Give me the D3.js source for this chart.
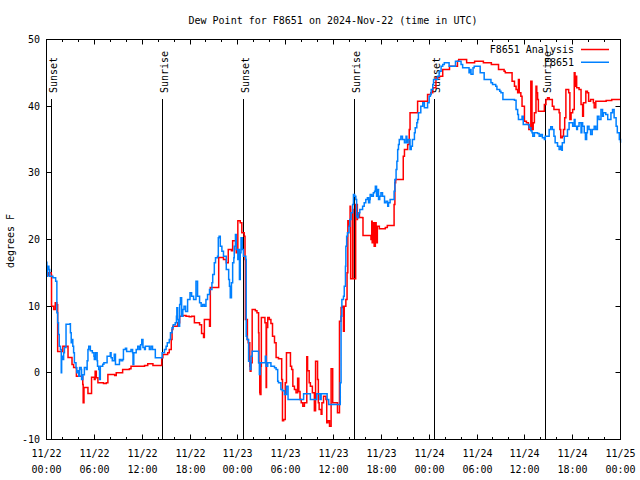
<!DOCTYPE html>
<html>
<head>
<meta charset="utf-8">
<script src="https://cdn.jsdelivr.net/npm/d3@7"></script>
<style>
html,body{margin:0;padding:0;background:#fff;}
svg text{font-family:"DejaVu Sans Mono","Liberation Mono",monospace;font-size:10px;fill:#000;}
</style>
</head>
<body>
<svg id="chart" width="640" height="480"></svg>
<script>
// ---- data (hours since 2024-11-22 00:00 UTC) ----
const titleText = "Dew Point for F8651 on 2024-Nov-22 (time in UTC)";
const yLabelText = "degrees F";
const seriesNames = ["F8651 Analysis", "F8651"];
const yTicks = [-10, 0, 10, 20, 30, 40, 50];
const sunEventNames = ["Sunset", "Sunrise", "Sunset", "Sunrise", "Sunset", "Sunrise"];
const sunEventHours = [0.6, 14.47, 24.62, 38.55, 48.6, 62.55];

const analysisHours = [0.0,0.25,0.6,0.63,0.9,1.1,1.3,1.4,1.75,2.05,2.6,2.7,3.15,3.2,3.4,3.6,3.75,4.25,4.55,4.6,4.7,5.0,5.2,5.6,5.65,6.0,6.1,6.25,6.45,7.15,7.5,7.7,8.55,8.75,9.35,9.55,10.4,10.6,12.3,12.7,13.1,13.35,14.4,14.45,14.6,15.2,15.4,15.65,15.75,15.85,16.45,16.7,17.1,17.5,17.9,18.2,18.55,19.2,19.45,19.7,19.8,20.2,20.45,20.55,21.55,21.6,22.2,22.55,22.8,23.2,23.35,23.7,23.8,24.0,24.3,24.5,24.8,24.9,24.95,25.2,25.3,25.5,25.55,25.65,25.8,26.2,26.4,26.6,26.65,26.75,26.8,26.9,26.95,27.3,27.4,27.55,27.6,27.75,27.95,28.15,28.35,28.6,28.8,29.0,29.1,29.4,29.5,29.6,29.75,29.95,30.1,30.55,30.6,30.75,30.9,31.1,31.3,31.5,31.65,31.8,31.95,32.15,32.35,32.65,32.75,32.95,33.1,33.35,33.6,33.75,33.95,34.0,34.1,34.2,34.45,34.55,34.75,35.05,35.15,35.3,35.5,35.7,35.9,36.3,36.5,36.75,36.95,37.15,37.25,37.35,37.55,37.7,37.8,37.9,38.08,38.15,38.37,38.4,38.45,38.74,38.78,38.99,39.0,39.25,39.65,39.7,40.6,40.7,40.8,40.85,41.0,41.1,41.25,41.35,41.5,41.75,42.25,42.5,42.75,43.55,43.6,43.7,43.8,44.7,44.75,44.9,45.3,45.5,45.6,46.35,46.55,47.4,47.8,48.2,48.45,48.85,49.3,49.7,50.3,50.55,51.4,51.55,51.7,52.6,52.7,53.65,53.7,54.7,54.8,55.75,55.8,56.6,56.7,57.4,57.55,58.25,58.4,58.7,58.9,59.1,59.2,59.3,59.5,59.65,59.8,59.95,60.2,60.45,60.5,60.75,60.9,61.05,61.2,61.4,61.5,61.6,61.7,62.2,62.45,62.65,62.85,63.05,63.4,63.45,63.65,63.9,64.05,64.3,64.4,64.5,64.7,64.85,65.0,65.15,65.3,65.5,65.65,65.8,66.0,66.2,66.3,66.35,66.5,66.8,67.05,67.25,67.35,67.65,67.85,68.0,68.25,68.6,68.7,68.9,69.75,70.2,70.8,70.9,72.0];
const analysisValues = [14.6,15.0,14.7,10.0,9.5,10.5,10.2,3.2,3.2,4.0,4.0,2.3,2.3,1.25,0.8,0.8,-0.5,-0.5,-1.75,-4.5,-2.2,-2.2,-3.1,-3.1,-0.65,-1.0,0.25,-0.75,-1.5,-1.6,-1.5,-0.25,-0.4,0.0,0.0,0.5,0.6,1.0,1.1,1.35,1.35,1.1,1.1,2.25,2.75,3.0,3.5,5.0,6.5,7.0,7.5,8.5,8.6,8.5,8.4,8.5,7.5,7.2,5.9,5.3,8.0,8.0,7.0,12.8,12.8,17.3,17.0,16.5,18.5,18.3,19.8,19.8,18.0,22.8,22.5,21.0,20.5,17.0,8.0,5.0,4.5,1.0,0.25,1.5,9.5,9.3,9.0,6.0,1.5,-3.0,-3.25,1.0,8.3,8.3,7.5,-2.2,6.8,8.3,8.0,7.4,5.5,4.5,2.3,2.3,2.1,2.1,-1.0,-7.2,-7.0,-1.5,3.0,3.0,1.0,0.5,-2.0,-2.5,-3.0,-0.8,-2.8,-4.0,-4.5,-5.0,-4.5,2.4,0.3,-1.5,-2.0,-3.0,-5.7,1.75,1.75,-1.0,-4.5,-5.5,-6.2,-4.5,-3.5,-4.0,-7.5,-7.2,-8.0,0.6,-4.5,-4.5,-6.0,7.75,9.8,10.0,6.25,10.0,11.0,15.0,22.8,22.0,25.0,14.1,14.1,24.5,14.1,14.1,25.25,23.0,24.0,23.3,23.25,20.6,20.6,20.0,22.75,19.5,22.5,19.0,22.5,19.5,22.0,21.6,21.6,21.8,22.1,22.1,25.25,28.5,29.0,29.0,32.5,33.5,34.25,36.5,39.0,39.0,40.75,40.75,41.75,42.0,42.75,44.25,44.5,45.5,45.5,46.0,46.0,46.75,47.0,47.0,46.5,46.5,46.75,46.75,46.5,46.5,46.25,46.25,45.5,45.25,45.0,45.0,43.75,43.0,42.5,42.0,44.0,42.0,41.5,40.0,40.0,37.75,37.5,37.2,36.5,43.75,36.5,37.5,39.0,43.0,42.0,41.0,39.25,39.25,40.25,41.0,41.25,41.0,41.0,40.0,39.5,39.5,39.5,39.0,36.5,35.25,35.5,36.5,38.25,42.5,42.5,42.0,38.0,39.0,39.5,45.0,43.0,44.5,42.75,42.5,40.25,38.5,40.5,42.25,42.0,40.75,41.0,40.5,39.75,40.75,40.75,40.85,40.85,41.0,41.0];

const stationHours = [0.0,0.05,0.15,0.3,0.4,0.6,0.8,1.0,1.15,1.25,1.3,1.4,1.5,1.6,1.75,1.85,1.9,2.05,2.15,2.25,2.45,2.95,3.0,3.1,3.15,3.3,3.4,3.5,3.7,3.8,3.95,4.05,4.15,4.35,4.4,4.55,4.75,5.0,5.1,5.2,5.3,5.5,5.75,5.95,6.0,6.15,6.35,6.4,6.55,6.65,6.75,7.05,7.2,7.5,7.6,7.9,8.0,8.1,8.25,8.45,8.5,8.65,8.85,9.15,9.35,9.55,9.65,9.9,10.05,10.5,10.6,10.8,10.85,10.95,11.25,11.45,11.65,11.8,11.95,12.1,12.3,12.4,12.9,13.1,13.3,13.55,13.65,14.35,14.5,14.8,15.0,15.15,15.4,15.55,15.75,15.9,16.15,16.3,16.35,16.45,16.55,16.7,16.8,16.95,17.1,17.25,17.45,17.7,18.0,18.2,18.45,18.75,18.95,19.2,19.4,19.6,19.8,20.0,20.2,20.45,20.75,20.85,21.05,21.2,21.45,21.55,21.65,21.8,22.0,22.2,22.55,22.7,22.85,22.95,23.05,23.2,23.35,23.5,23.55,23.7,23.8,24.0,24.1,24.2,24.3,24.4,24.55,24.7,24.8,25.0,25.05,25.15,25.35,25.55,25.65,25.8,26.45,26.6,26.7,26.8,27.3,27.45,27.55,27.75,27.95,28.15,28.6,28.8,29.0,29.1,29.4,29.6,29.85,30.1,30.25,30.3,32.15,32.25,33.0,33.1,33.8,33.9,34.2,34.3,34.45,35.05,35.2,35.4,36.75,36.85,36.95,37.05,37.25,37.35,37.5,37.55,37.65,37.75,37.95,38.05,38.2,38.4,38.5,38.65,38.8,38.9,39.0,39.15,39.3,39.65,39.85,40.05,40.25,40.4,40.55,40.6,40.8,41.0,41.15,41.25,41.4,41.5,41.65,41.8,41.95,42.15,42.4,42.6,42.8,42.9,43.1,43.4,43.6,43.7,43.85,43.95,44.05,44.15,44.25,44.45,44.65,44.9,45.1,45.2,45.35,45.6,45.75,45.9,46.15,46.25,46.45,46.55,46.65,46.95,47.2,47.4,47.6,47.8,48.0,48.15,48.25,48.45,48.55,48.85,49.05,49.25,49.5,49.7,49.9,50.3,50.5,51.15,51.3,51.8,52.0,52.2,52.6,53.0,53.1,53.25,53.5,53.65,54.3,54.4,54.8,54.9,55.55,55.75,55.95,56.35,56.5,56.85,57.0,57.25,58.7,58.9,59.1,59.2,59.5,59.65,59.8,60.55,60.75,60.9,61.0,61.2,61.6,61.8,62.0,62.2,62.45,62.55,62.85,63.05,63.25,63.45,63.65,63.8,64.1,64.3,64.5,64.65,64.7,64.95,65.15,65.35,65.55,65.75,66.0,66.2,66.3,66.5,66.6,66.8,67.05,67.15,67.25,67.45,67.6,67.75,67.85,68.05,68.25,68.45,68.7,68.9,69.1,69.3,69.55,69.75,69.85,70.15,70.4,70.55,70.8,71.0,71.2,71.45,71.6,71.85,72.0];
const stationValues = [16.6,14.5,16.0,15.5,14.5,14.5,14.25,14.25,13.75,13.75,9.0,7.5,5.75,4.0,3.5,0.0,2.5,2.0,3.0,3.8,7.3,7.35,6.0,4.5,5.0,4.0,3.0,1.5,0.75,0.0,0.3,-0.5,0.8,0.5,-1.0,-0.3,0.8,0.5,1.8,3.5,4.0,3.3,3.0,2.5,2.0,3.0,1.8,1.0,0.5,-1.0,1.0,1.3,1.5,1.5,2.5,2.5,3.0,2.25,1.8,1.8,2.8,1.25,1.25,2.0,1.8,2.0,3.5,3.7,3.2,3.2,3.5,3.0,1.25,3.0,3.5,4.0,3.5,4.2,5.0,3.8,3.5,4.0,3.5,4.0,3.5,3.5,2.25,2.25,3.0,3.5,4.0,4.5,5.0,6.0,6.75,7.2,7.5,8.5,9.75,8.0,7.0,10.25,11.25,8.5,9.5,10.0,9.2,11.0,12.0,11.5,11.0,13.75,11.5,10.5,10.0,10.25,10.0,11.0,11.75,12.5,13.5,14.75,16.5,17.25,17.5,20.25,20.5,19.0,18.25,17.5,15.5,15.5,14.0,13.0,11.25,13.5,16.5,17.25,19.0,20.75,18.5,17.0,18.5,14.0,18.0,20.25,18.5,17.5,17.5,17.0,5.5,5.0,1.75,0.5,2.5,3.25,3.25,1.5,-0.25,1.5,1.5,2.5,1.0,1.5,1.5,1.0,0.75,0.5,-1.25,-1.5,-2.5,-2.7,-3.25,-2.0,-2.0,-4.0,-4.0,-3.15,-3.15,-4.0,-4.0,-3.15,-3.15,-4.0,-3.15,-3.15,-4.0,-4.75,-4.75,-1.5,8.5,11.0,11.5,13.0,16.0,19.0,20.5,21.0,22.0,23.0,24.0,25.25,26.75,26.5,26.0,23.5,23.25,24.0,24.5,25.0,25.5,26.0,26.25,25.5,26.0,26.75,26.5,27.0,27.25,28.0,26.5,27.5,26.0,26.5,27.0,26.5,25.5,25.75,25.0,25.5,26.0,26.0,27.25,29.0,30.5,31.75,33.5,34.25,35.0,35.5,35.0,34.5,35.5,34.5,35.0,33.5,34.0,35.0,36.0,36.75,37.5,38.0,39.0,40.0,40.5,39.75,39.75,40.5,41.5,41.75,42.5,43.25,44.0,44.0,44.5,45.25,46.0,46.25,46.5,46.5,46.0,46.0,46.75,46.75,46.25,45.75,45.75,45.0,45.5,44.8,45.75,46.0,46.0,45.0,45.0,44.0,44.0,43.5,43.25,43.0,42.5,42.25,42.0,41.0,40.9,39.5,38.75,38.0,38.0,38.5,37.25,36.75,36.3,36.0,35.5,36.0,35.9,35.5,35.75,35.25,35.0,35.5,35.5,36.5,36.9,36.5,35.5,34.5,34.0,33.5,34.0,33.4,34.5,35.5,35.5,36.5,37.5,37.5,37.0,38.0,37.0,36.5,37.0,37.5,36.0,37.5,37.0,36.0,35.0,36.0,37.0,36.5,35.75,36.5,37.0,36.5,38.5,38.0,39.5,38.5,39.0,38.75,38.0,38.0,39.0,39.5,38.25,37.0,36.0,35.0,34.5];

// ---- drawing ----
(function () {
const pL = 46.5, pR = 620.5, pT = 39.5, pB = 439.5;
const start = Date.UTC(2024, 10, 22, 0, 0);
const toDate = h => new Date(start + h * 3600e3);

const svg = d3.select("#chart");
const x = d3.scaleUtc().domain([toDate(0), toDate(72)]).range([pL, pR]);
const y = d3.scaleLinear().domain([-10, 50]).range([pB, pT]);

const colors = ["#ff0000", "#0080ff"];

// title
svg.append("text").attr("x", 333).attr("y", 24).attr("text-anchor", "middle").text(titleText);
// y label
svg.append("text").attr("transform", "translate(14,241) rotate(-90)")
  .attr("text-anchor", "middle").text(yLabelText);

// sunrise/sunset lines
const sunG = svg.append("g");
sunEventHours.forEach((h, i) => {
  const xx = Math.round(x(toDate(h))) + 0.5;
  sunG.append("line").attr("x1", xx).attr("x2", xx).attr("y1", 99).attr("y2", pB)
    .attr("stroke", "#000").attr("stroke-width", 1);
  sunG.append("text").attr("transform", `translate(${xx + 1.5},93) rotate(-90)`)
    .attr("dy", "0.35em").attr("text-anchor", "start").text(sunEventNames[i]);
});

// series
const line = d3.line().curve(d3.curveStepAfter)
  .x(d => x(toDate(d[0]))).y(d => y(d[1]));
const series = [
  d3.zip(analysisHours, analysisValues),
  d3.zip(stationHours, stationValues)
];
series.forEach((s, i) => {
  svg.append("path").datum(s).attr("d", line).attr("fill", "none")
    .attr("stroke", colors[i]).attr("stroke-width", 1.5).attr("stroke-linejoin", "miter");
});

// frame
svg.append("rect").attr("x", pL).attr("y", pT).attr("width", pR - pL).attr("height", pB - pT)
  .attr("fill", "none").attr("stroke", "#000").attr("stroke-width", 1);

// y ticks
const tg = svg.append("g").attr("stroke", "#000").attr("stroke-width", 1);
yTicks.forEach(v => {
  const yy = Math.round(y(v) - 0.5) + 0.5;
  tg.append("line").attr("x1", pL).attr("x2", pL + 5).attr("y1", yy).attr("y2", yy);
  tg.append("line").attr("x1", pR).attr("x2", pR - 5).attr("y1", yy).attr("y2", yy);
  svg.append("text").attr("x", 40).attr("y", yy).attr("dy", "0.35em")
    .attr("text-anchor", "end").text(v);
});

// x ticks
const major = x.ticks(d3.utcHour.every(6));
const minor = x.ticks(d3.utcHour.every(2)).filter(d => d.getUTCHours() % 6 !== 0);
major.forEach(d => {
  const xx = Math.round(x(d) - 0.5) + 0.5;
  tg.append("line").attr("x1", xx).attr("x2", xx).attr("y1", pB).attr("y2", pB - 5);
  tg.append("line").attr("x1", xx).attr("x2", xx).attr("y1", pT).attr("y2", pT + 5);
  svg.append("text").attr("x", xx).attr("y", 457).attr("text-anchor", "middle").text(d3.utcFormat("%m/%d")(d));
  svg.append("text").attr("x", xx).attr("y", 473).attr("text-anchor", "middle").text(d3.utcFormat("%H:%M")(d));
});
minor.forEach(d => {
  const xx = Math.round(x(d) - 0.5) + 0.5;
  tg.append("line").attr("x1", xx).attr("x2", xx).attr("y1", pB).attr("y2", pB - 2.5);
  tg.append("line").attr("x1", xx).attr("x2", xx).attr("y1", pT).attr("y2", pT + 2.5);
});

// legend
seriesNames.forEach((n, i) => {
  const yy = 49.5 + i * 12.75;
  svg.append("text").attr("x", 574).attr("y", yy).attr("dy", "0.35em").attr("text-anchor", "end").text(n);
  svg.append("line").attr("x1", 581).attr("x2", 609).attr("y1", yy).attr("y2", yy)
    .attr("stroke", colors[i]).attr("stroke-width", 1.5);
});
})();
</script>
</body>
</html>
